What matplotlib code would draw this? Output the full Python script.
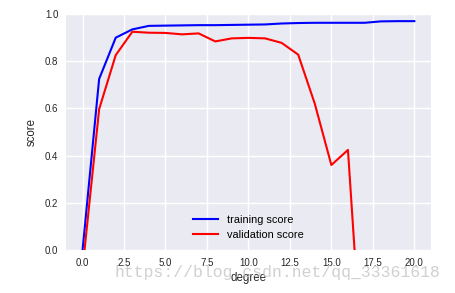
import numpy as np
import matplotlib
matplotlib.use("Agg")
import matplotlib.pyplot as plt

# polynomial degree vs. score
degree = list(range(21))
training_score = [0.0, 0.725, 0.900, 0.935, 0.950, 0.951, 0.952, 0.953, 0.953, 0.954, 0.955,
                  0.956, 0.960, 0.962, 0.963, 0.963, 0.963, 0.963, 0.969, 0.970, 0.970]
validation_score = [-0.08, 0.597, 0.826, 0.925, 0.921, 0.920, 0.914, 0.918, 0.884, 0.897, 0.899,
                    0.897, 0.878, 0.828, 0.620, 0.360, 0.424, -0.640, -3.5, -8.0, -12.0]
x_ticks = [0.0, 2.5, 5.0, 7.5, 10.0, 12.5, 15.0, 17.5, 20.0]
y_ticks = [0.0, 0.2, 0.4, 0.6, 0.8, 1.0]

plt.rcParams['font.family'] = ['Liberation Sans', 'DejaVu Sans']

fig = plt.figure(figsize=(4.55, 2.93), dpi=100)
ax = fig.add_axes([0.145, 0.147, 0.802, 0.805])
ax.set_facecolor('#EAEAF2')
for s in ax.spines.values():
    s.set_visible(False)
ax.grid(True, color='white', linewidth=1.0)
ax.set_axisbelow(True)

ax.plot(degree, training_score, color='blue', lw=1.5, label='training score')
ax.plot(degree, validation_score, color='red', lw=1.5, label='validation score')

ax.set_xlim(-1, 21)
ax.set_ylim(0, 1)
ax.set_xticks(x_ticks)
ax.set_xticklabels([f'{t:.1f}' for t in x_ticks])
ax.set_yticks(y_ticks)
ax.set_yticklabels([f'{t:.1f}' for t in y_ticks])
ax.tick_params(length=0, pad=5.5, labelsize=7, labelcolor='#262626')
ax.set_xlabel('degree', fontsize=8.3, color='#262626', labelpad=3)
ax.set_ylabel('score', fontsize=8.3, color='#262626', labelpad=5)
ax.legend(loc='lower center', frameon=False, fontsize=7.9, handlelength=2.3)

fig.text(0.61, 0.07, 'https://blog.csdn.net/qq_33361618', family='Liberation Mono',
         fontsize=11.8, color='#c8c8c8', ha='center', va='center', alpha=0.85)

fig.savefig('out.png', dpi=100)
